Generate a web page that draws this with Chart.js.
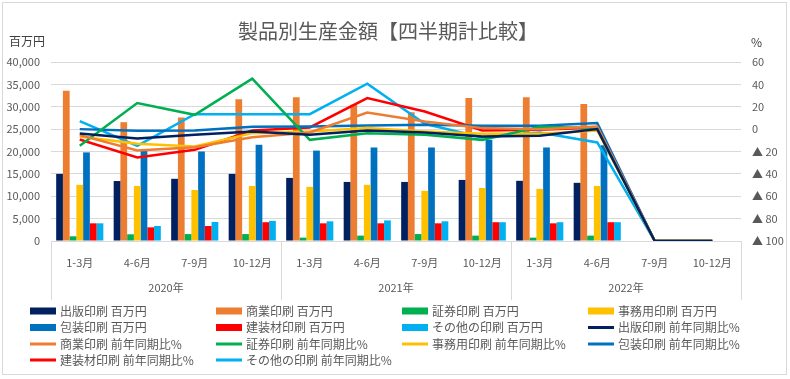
<!DOCTYPE html>
<html>
<head>
<meta charset="utf-8">
<script src="https://cdn.jsdelivr.net/npm/chart.js@4/dist/chart.umd.min.js"></script>
<style>
html,body{margin:0;padding:0;background:#fff;}
#wrap{width:790px;height:379px;position:relative;}
</style>
</head>
<body>
<div id="wrap"><canvas id="c" width="790" height="379"></canvas></div>
<script>
// ---- data ----
const years = ['2020年', '2021年', '2022年'];
const quarters = ['1-3月', '4-6月', '7-9月', '10-12月'];
const seriesNames = ['出版印刷', '商業印刷', '証券印刷', '事務用印刷', '包装印刷', '建装材印刷', 'その他の印刷'];
const amountUnit = '百万円';
const ratioUnit = '前年同期比%';

// 生産金額 (百万円)
const amtPublishing = [15000, 13400, 13900, 15000, 14100, 13200, 13200, 13650, 13450, 13000, 0, 0];
const amtCommercial = [33600, 26550, 27600, 31700, 32150, 30450, 28750, 31950, 32150, 30600, 0, 0];
const amtSecurities = [1050, 1500, 1550, 1550, 750, 1200, 1550, 1200, 750, 1200, 0, 0];
const amtOffice     = [12550, 12300, 11400, 12300, 12100, 12550, 11200, 11850, 11650, 12300, 0, 0];
const amtPackaging  = [19800, 20350, 20000, 21500, 20200, 20900, 20900, 22600, 20900, 21400, 0, 0];
const amtBuilding   = [3950, 3050, 3350, 4200, 3950, 3950, 3950, 4200, 3950, 4200, 0, 0];
const amtOther      = [3950, 3350, 4250, 4500, 4400, 4600, 4400, 4200, 4200, 4200, 0, 0];

// 前年同期比 (%)
const yoyPublishing = [-4, -8.4, -5.1, -2.1, -5.1, -1.2, -3, -6.6, -6, 0, -100, -100];
const yoyCommercial = [-5.4, -19.1, -16.1, -7.2, -3, 14.9, 6.9, 0.9, 0, 2.4, -100, -100];
const yoySecurities = [-14.9, 23.3, 12.8, 45.1, -9.6, -3.6, -5.1, -9.6, 2.1, 0.9, -100, -100];
const yoyOffice     = [-6.6, -13.1, -15.5, -3.6, -2.1, 0.9, -2.1, -4.2, -4.2, -1.2, -100, -100];
const yoyPackaging  = [0, -1.5, -1.2, 2.1, 2.4, 3.3, 3.9, 3.0, 3.0, 5.4, -100, -100];
const yoyBuilding   = [-9.3, -25.4, -18.5, -1.2, 1.5, 27.8, 15.8, -1.2, -0.6, 1.5, -100, -100];
const yoyOther      = [7.2, -14.9, 13.4, 13.4, 13.4, 40.6, 4.8, -7.5, -3, -11.9, -100, -100];

const categories = [];
years.forEach(y => quarters.forEach(q => categories.push(q)));

// ---- styling ----
const colors = ['#002060', '#ED7D31', '#00B050', '#FFC000', '#0070C0', '#FF0000', '#00B0F0'];
const amounts = [amtPublishing, amtCommercial, amtSecurities, amtOffice, amtPackaging, amtBuilding, amtOther];
const yoys = [yoyPublishing, yoyCommercial, yoySecurities, yoyOffice, yoyPackaging, yoyBuilding, yoyOther];
const FONT = "'Noto Sans CJK JP', 'Noto Sans', sans-serif";
const TXT = '#595959';

const datasets = [];
amounts.forEach((d, i) => datasets.push({
  type: 'bar', label: seriesNames[i] + ' ' + amountUnit, data: d,
  backgroundColor: colors[i], borderWidth: 0, yAxisID: 'y', order: 2,
  categoryPercentage: 0.82, barPercentage: 1.0
}));
yoys.forEach((d, i) => datasets.push({
  type: 'line', label: seriesNames[i] + ' ' + ratioUnit, data: d,
  borderColor: colors[i], backgroundColor: colors[i], borderWidth: 2.5,
  pointRadius: 0, tension: 0, yAxisID: 'y1', order: 1
}));

const decor = {
  id: 'decor',
  afterDraw(chart) {
    const ctx = chart.ctx;
    const ca = chart.chartArea;
    const xs = chart.scales.x;
    ctx.save();
    // outer border
    ctx.strokeStyle = '#d9d9d9';
    ctx.lineWidth = 1;
    ctx.strokeRect(2.5, 2.5, 784, 372);
    // title
    ctx.fillStyle = TXT;
    ctx.font = '20px ' + FONT;
    ctx.textAlign = 'center';
    ctx.textBaseline = 'middle';
    ctx.fillText('製品別生産金額【四半期計比較】', 388, 31);
    // axis titles
    ctx.fillStyle = '#404040';
    ctx.font = '12px ' + FONT;
    ctx.textAlign = 'left';
    ctx.fillText('百万円', 9, 41);
    ctx.fillText('%', 751, 42);
    // group separators and year labels
    const n = quarters.length;
    const step = xs.getPixelForValue(1) - xs.getPixelForValue(0);
    ctx.strokeStyle = '#d9d9d9';
    ctx.lineWidth = 1;
    for (let g = 0; g <= years.length; g++) {
      const x = Math.round(xs.getPixelForValue(g * n) - step / 2) + 0.5;
      ctx.beginPath();
      ctx.moveTo(x, ca.bottom);
      ctx.lineTo(x, 300);
      ctx.stroke();
    }
    ctx.fillStyle = TXT;
    ctx.font = '11px ' + FONT;
    ctx.textAlign = 'center';
    years.forEach((y, g) => {
      const x0 = xs.getPixelForValue(g * n) - step / 2;
      const x1 = xs.getPixelForValue(g * n + n - 1) + step / 2;
      ctx.fillText(y, (x0 + x1) / 2, 288);
    });
    // legend grid
    const colX = [30, 216, 402, 588];
    const rowY = [311, 327.5, 344, 360];
    ctx.font = '12px ' + FONT;
    ctx.textAlign = 'left';
    ctx.textBaseline = 'middle';
    chart.data.datasets.forEach((ds, i) => {
      const x = colX[i % 4], y = rowY[Math.floor(i / 4)];
      if (ds.type === 'bar') {
        ctx.fillStyle = ds.backgroundColor;
        ctx.fillRect(x, y - 3.5, 26, 7);
      } else {
        ctx.strokeStyle = ds.borderColor;
        ctx.lineWidth = 3;
        ctx.beginPath();
        ctx.moveTo(x, y);
        ctx.lineTo(x + 26, y);
        ctx.stroke();
      }
      ctx.fillStyle = TXT;
      ctx.fillText(ds.label, x + 30, y);
    });
    ctx.restore();
  }
};

new Chart(document.getElementById('c'), {
  type: 'bar',
  data: { labels: categories, datasets },
  options: {
    responsive: false,
    animation: false,
    devicePixelRatio: 1,
    layout: { padding: { top: 62, bottom: 78, left: 0, right: 0 } },
    plugins: { legend: { display: false }, title: { display: false }, tooltip: { enabled: false } },
    scales: {
      x: {
        grid: { display: false, drawTicks: false },
        border: { display: true, color: '#d9d9d9' },
        ticks: { color: TXT, font: { size: 11, family: FONT }, padding: 15, maxRotation: 0, autoSkip: false },
        afterFit(s) { s.height = 60; }
      },
      y: {
        position: 'left', min: 0, max: 40000,
        grid: { color: '#d9d9d9', drawTicks: false },
        border: { display: false },
        ticks: { stepSize: 5000, color: TXT, font: { size: 11, family: FONT }, padding: 11,
          callback: v => v.toLocaleString('en-US') },
        afterFit(s) { s.width = 51; }
      },
      y1: {
        position: 'right', min: -100, max: 60,
        grid: { display: false, drawTicks: false },
        border: { display: false },
        ticks: { stepSize: 20, color: TXT, font: { size: 11, family: FONT }, padding: 11,
          callback: v => v < 0 ? '▲ ' + (-v) : String(v) },
        afterFit(s) { s.width = 49; }
      }
    }
  },
  plugins: [decor]
});
</script>
</body>
</html>
